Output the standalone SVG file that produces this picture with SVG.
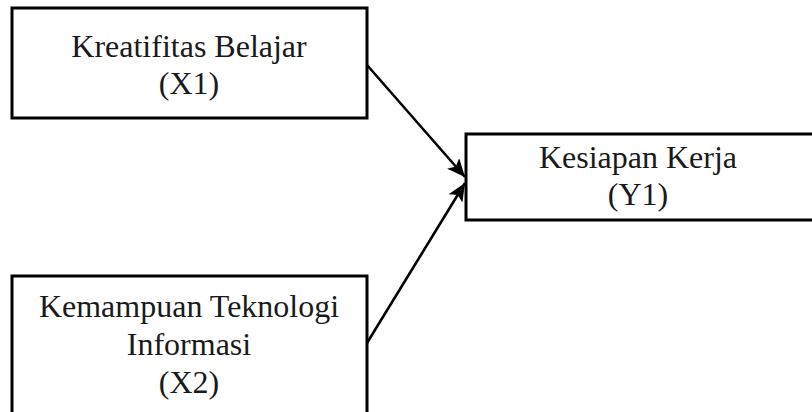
<svg xmlns="http://www.w3.org/2000/svg" width="812" height="412" viewBox="0 0 812 412">
<defs>
<style>
.box{fill:#fff;stroke:#000;stroke-width:3}
.lbl{font-family:"Liberation Serif","Times New Roman",serif;font-size:32px;fill:#1a1a1a;text-anchor:middle}
.conn{stroke:#000;stroke-width:2.6;fill:none}
</style>
<marker id="ah" markerUnits="userSpaceOnUse" markerWidth="20" markerHeight="16" refX="18" refY="8" orient="auto">
<path d="M0,0 L18,8 L0,16 L4,8 Z" fill="#000"/>
</marker>
</defs>
<rect width="812" height="412" fill="#fff"/>
<g id="x1">
<rect class="box" x="12" y="8" width="355" height="110"/>
<text class="lbl" x="189" y="57">Kreatifitas Belajar</text>
<text class="lbl" x="189" y="94">(X1)</text>
</g>
<g id="y1">
<rect class="box" x="466" y="134" width="350" height="86"/>
<text class="lbl" x="638" y="168">Kesiapan Kerja</text>
<text class="lbl" x="638" y="205">(Y1)</text>
</g>
<g id="x2">
<rect class="box" x="12" y="276" width="355" height="150"/>
<text class="lbl" x="189" y="317">Kemampuan Teknologi</text>
<text class="lbl" x="189" y="355">Informasi</text>
<text class="lbl" x="189" y="393">(X2)</text>
</g>
<g id="connectors">
<line class="conn" x1="367" y1="65" x2="465" y2="177" marker-end="url(#ah)"/>
<line class="conn" x1="367" y1="343" x2="465" y2="183" marker-end="url(#ah)"/>
</g>
</svg>
